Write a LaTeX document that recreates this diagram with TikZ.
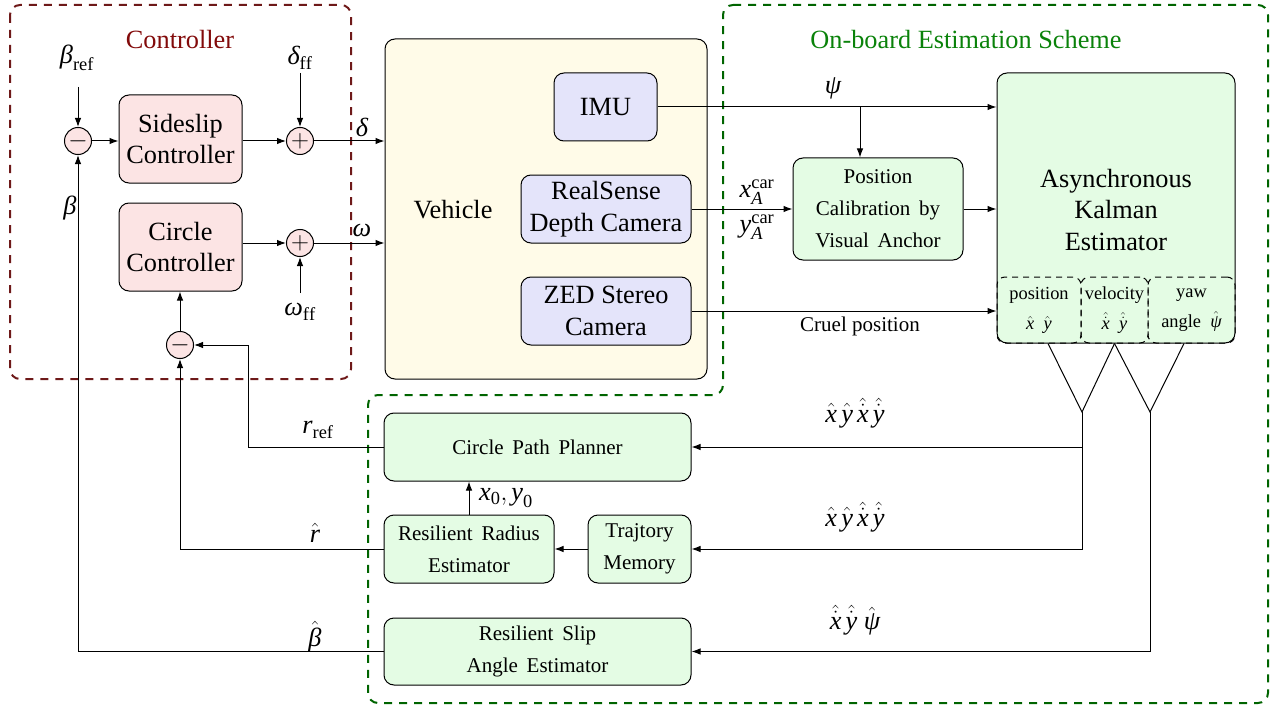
\documentclass[tikz,border=0pt]{standalone}
\usepackage{amsmath}
\usepackage{fontspec}
\setmainfont{Liberation Serif}
\usetikzlibrary{arrows.meta,calc}
\newcommand\mi[1]{\text{\itshape #1}}
\definecolor{ctrlfill}{RGB}{252,228,228}
\definecolor{vehfill}{RGB}{255,251,232}
\definecolor{sensfill}{RGB}{228,228,250}
\definecolor{estfill}{RGB}{228,252,228}
\definecolor{ctrltext}{RGB}{130,10,10}
\definecolor{ctrlline}{RGB}{110,25,25}
\definecolor{esttext}{RGB}{10,130,10}
\definecolor{estline}{RGB}{0,100,0}
\begin{document}
\begin{tikzpicture}[x=1pt,y=-1pt,
  font=\fontsize{26.3}{31.6}\selectfont,
  >={Latex[length=9pt,width=6.5pt]},
  line width=1pt,
  blk/.style={draw, rounded corners=10pt, align=center, inner sep=0pt},
  ctrlbox/.style={blk, fill=ctrlfill},
  vehbox/.style={blk, fill=vehfill},
  sensbox/.style={blk, fill=sensfill},
  estbox/.style={blk, fill=estfill},
  smallfont/.style={font=\fontsize{21}{32}\selectfont},
  subbox/.style={draw, dash pattern=on 6pt off 5pt, rounded corners=8pt, align=center, inner sep=0pt,
    font=\fontsize{18.4}{30}\selectfont},
  sumnode/.style={circle, draw, fill=ctrlfill, minimum size=27pt, inner sep=0pt},
  lbl/.style={inner sep=0pt},
  groupdash/.style={line width=2pt, dash pattern=on 8pt off 7pt, rounded corners=10pt}
]
\useasboundingbox (0,0) rectangle (1277,706);

% group outlines
\draw[groupdash, draw=ctrlline] (10,5) rectangle (351,379);
\draw[groupdash, draw=estline] (723,5) -- (1268,5) -- (1268,703) -- (368,703) -- (368,395) -- (723,395) -- cycle;
\node[lbl, text=ctrltext] (ctitle) at (180,40) {Controller};
\node[lbl, text=esttext] (etitle) at (966,40) {On-board Estimation Scheme};

% controller
\node[ctrlbox, minimum width=123pt, minimum height=88pt] (side) at (180.5,139) {Sideslip\\Controller};
\node[ctrlbox, minimum width=123pt, minimum height=88pt] (circ) at (180.5,247) {Circle\\Controller};
\node[sumnode] (sumb) at (78,141) {$-$};
\node[sumnode] (sumd) at (300,141) {$+$};
\node[sumnode] (sumw) at (300,243) {$+$};
\node[sumnode] (sumr) at (180,345) {$-$};
\node[lbl] (bref) at (77,58) {$\mi{β}_{\mathrm{ref}}$};
\node[lbl] (dff) at (300,58) {$\mi{δ}_{\mathrm{ff}}$};
\node[lbl] (wff) at (300,312) {$\mi{ω}_{\mathrm{ff}}$};
\node[lbl] (blab) at (70,208) {$\mi{β}$};
\node[lbl] (dlab) at (362,127) {$\mi{δ}$};
\node[lbl] (wlab) at (362,230) {$\mi{ω}$};
\coordinate (brefa) at (78,87);
\coordinate (dffa) at (300,73);
\coordinate (wffa) at (300,293);

% vehicle
\node[vehbox, minimum width=322pt, minimum height=340pt] (veh) at (546,209) {};
\node[lbl] (vehlbl) at (453,210) {Vehicle};
\node[sensbox, minimum width=103pt, minimum height=68pt] (imu) at (605.5,107) {IMU};
\node[sensbox, minimum width=170pt, minimum height=68pt] (rs) at (606,209) {RealSense\\Depth Camera};
\node[sensbox, minimum width=170pt, minimum height=68pt] (zed) at (606,311) {ZED Stereo\\Camera};

% estimation
\node[estbox, smallfont, minimum width=170pt, minimum height=102pt] (pcal) at (878,209) {Position\\Calibration\ \,by\\Visual\ \,Anchor};
\node[estbox, minimum width=238pt, minimum height=270pt] (kal) at (1116,208) {};
\node[lbl, align=center] (kallbl) at (1116,210) {Asynchronous\\Kalman\\Estimator};
\node[subbox, minimum width=84pt, minimum height=66pt] (pos) at (1039,310) {position\\$\hat{\mi{x}}\ \ \hat{\mi{y}}$};
\node[subbox, minimum width=67pt, minimum height=66pt] (vel) at (1114.5,310) {velocity\\$\hat{\dot{\mi{x}}}\ \ \hat{\dot{\mi{y}}}$};
\node[subbox, minimum width=87pt, minimum height=66pt] (yaw) at (1191.5,310) {yaw\\angle\ \ $\hat{\mi{ψ}}$};
\coordinate (j1) at (1082,412);
\coordinate (j2) at (1150,412);

\node[estbox, smallfont, minimum width=307pt, minimum height=68pt] (cpp) at (537.5,447) {Circle\ \,Path\ \,Planner};
\node[estbox, smallfont, minimum width=170pt, minimum height=68pt] (rad) at (469,549) {Resilient\ \,Radius\\Estimator};
\node[estbox, smallfont, minimum width=103pt, minimum height=68pt] (mem) at (639.5,549) {Trajtory\\Memory};
\node[estbox, smallfont, minimum width=307pt, minimum height=67pt] (slip) at (537.5,651.5) {Resilient\ \,Slip\\Angle\ \,Estimator};

% labels
\node[lbl] (psil) at (833,88) {$\mi{ψ}$};
\node[lbl] (xal) at (757,192) {$\mi{x}_{\mi{A}}^{\mathrm{car}}$};
\node[lbl] (yal) at (757,227) {$\mi{y}_{\mi{A}}^{\mathrm{car}}$};
\node[lbl, smallfont] (cruel) at (860,326) {Cruel position};
\node[lbl] (l1) at (855,413) {$\hat{\mi{x}}\,\hat{\mi{y}}\,\hat{\dot{\mi{x}}}\,\hat{\dot{\mi{y}}}$};
\node[lbl] (l2) at (855,517) {$\hat{\mi{x}}\,\hat{\mi{y}}\,\hat{\dot{\mi{x}}}\,\hat{\dot{\mi{y}}}$};
\node[lbl] (l3) at (855,620) {$\hat{\dot{\mi{x}}}\,\hat{\dot{\mi{y}}}\ \hat{\mi{ψ}}$};
\node[lbl] (x0l) at (506,498) {$\mi{x}_{\mathrm{0}},\mi{y}_{\mathrm{0}}$};
\node[lbl] (rrefl) at (318,430) {$\mi{r}_{\mathrm{ref}}$};
\node[lbl] (rhatl) at (315,533) {$\hat{\mi{r}}$};
\node[lbl] (bhatl) at (315,637) {$\hat{\mi{β}}$};
\coordinate (rr) at (248,447);
\coordinate (imub) at (860,107);

% connectors controller
\draw[->] (brefa) -- (sumb.north);
\draw[->] (sumb.east) -- (side.west |- sumb.east);
\draw[->] (side.east |- sumd.west) -- (sumd.west);
\draw[->] (dffa) -- (sumd.north);
\draw[->] (sumd.east) -- (sumd.east -| veh.west);
\draw[->] (circ.east |- sumw.west) -- (sumw.west);
\draw[->] (wffa) -- (sumw.south);
\draw[->] (sumw.east) -- (sumw.east -| veh.west);
\draw[->] (sumr.north) -- (sumr.north |- circ.south);

% feedback
\draw[->] (cpp.west) -- (rr) |- (sumr.east);
\draw[->] (rad.west) -| (sumr.south);
\draw[->] (slip.west) -| (sumb.south);

% sensors
\draw[->] (imu.east) -- (imu.east -| kal.west);
\draw[->] (imub) -- (imub |- pcal.north);
\draw[->] (rs.east) -- (pcal.west);
\draw[->] (pcal.east) -- (pcal.east -| kal.west);
\draw[->] (zed.east) -- (zed.east -| kal.west);

% estimator outputs
\draw ([xshift=9pt]pos.south) -- (j1) -- (vel.south);
\draw (vel.south) -- (j2) -- ([xshift=-7.5pt]yaw.south);
\draw[->] (j1) |- (cpp.east);
\draw[->] (j1) |- (mem.east);
\draw[->] (j2) |- (slip.east);
\draw[->] (mem.west) -- (rad.east);
\draw[->] (rad.north) -- (rad.north |- cpp.south);
\end{tikzpicture}
\end{document}
